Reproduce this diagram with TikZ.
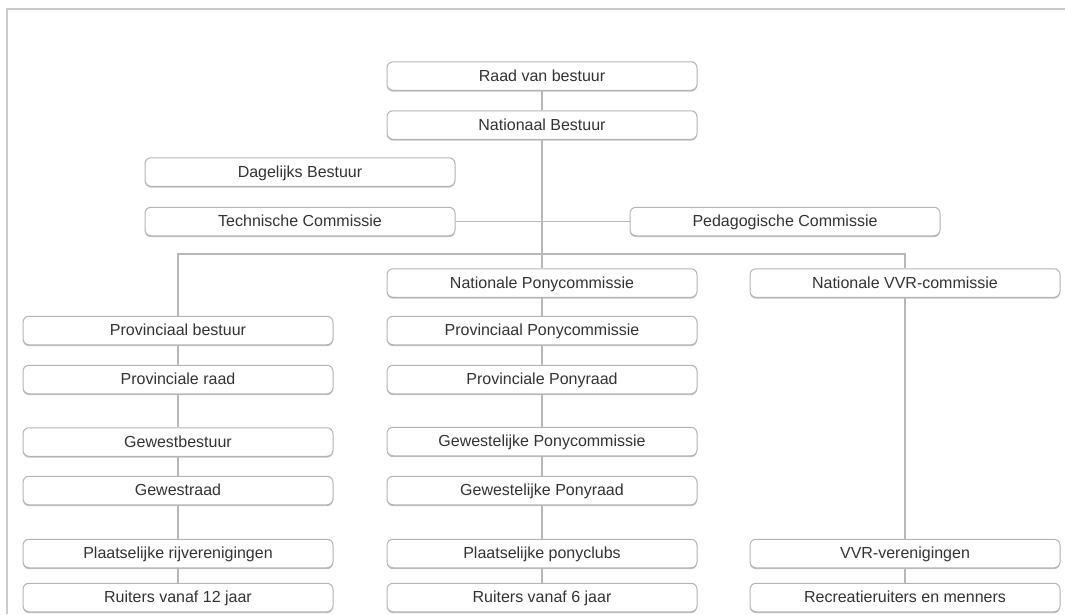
\documentclass[tikz,border=0pt]{standalone}
\usepackage{fontspec}
\setmainfont{Liberation Sans}
\usetikzlibrary{shadows}
\definecolor{boxline}{HTML}{B4B4B4}
\definecolor{wire}{HTML}{B8B8B8}
\definecolor{frameline}{HTML}{CACACA}
\definecolor{txt}{HTML}{333333}
\begin{document}
\begin{tikzpicture}[x=1pt,y=-1pt,
  orgbox/.style={draw=boxline, line width=1pt, fill=white, rounded corners=6pt,
    minimum width=310pt, minimum height=28.5pt, inner sep=0pt,
    text height=13pt, text depth=3pt,
    text=txt, font=\fontsize{16}{17}\selectfont,
    drop shadow={shadow xshift=0pt, shadow yshift=-1.4pt, fill=black!45, opacity=0.55}},
  wireline/.style={draw=wire, line width=1.6pt}]
\useasboundingbox (0,0) rectangle (1065,614);
% outer frame (top and left edges)
\draw[frameline, line width=2pt] (6.5,614) -- (6.5,8.5) -- (1065,8.5);

% national level
\node[orgbox] (rvb) at (542,76) {Raad van bestuur};
\node[orgbox] (nb)  at (542,125) {Nationaal Bestuur};
\node[orgbox] (db)  at (300,172) {Dagelijks Bestuur};
\node[orgbox] (tc)  at (300,221.5) {Technische Commissie};
\node[orgbox] (pc)  at (785,221.5) {Pedagogische Commissie};
\node[orgbox] (npc) at (542,283) {Nationale Ponycommissie};
\node[orgbox] (nvvr) at (905,283) {Nationale VVR-commissie};

% left column
\node[orgbox] (pb)  at (178,330.5) {Provinciaal bestuur};
\node[orgbox] (pr)  at (178,379.5) {Provinciale raad};
\node[orgbox] (gb)  at (178,442) {Gewestbestuur};
\node[orgbox] (gr)  at (178,490.5) {Gewestraad};
\node[orgbox] (plr) at (178,553.5) {Plaatselijke rijverenigingen};
\node[orgbox] (r12) at (178,597.5) {Ruiters vanaf 12 jaar};

% middle column
\node[orgbox] (ppc) at (542,330.5) {Provinciaal Ponycommissie};
\node[orgbox] (ppr) at (542,379.5) {Provinciale Ponyraad};
\node[orgbox] (gpc) at (542,441.5) {Gewestelijke Ponycommissie};
\node[orgbox] (gpr) at (542,490.5) {Gewestelijke Ponyraad};
\node[orgbox] (ppl) at (542,553.5) {Plaatselijke ponyclubs};
\node[orgbox] (r6)  at (542,597.5) {Ruiters vanaf 6 jaar};

% right column
\node[orgbox] (vvrv) at (905,553.5) {VVR-verenigingen};
\node[orgbox] (rec)  at (905,597.5) {Recreatieruiters en menners};

% junction where the branch line meets the main trunk
\coordinate (jn) at (542,254);

% connectors
\draw[wireline] (rvb) -- (nb);
\draw[wireline] (nb.south) -- (npc.north);
\draw[wireline] (tc.east) -- (pc.west);
\draw[wireline] (pb.north) |- (jn) -| (nvvr.north);
\draw[wireline] (pb) -- (pr) -- (gb) -- (gr) -- (plr) -- (r12);
\draw[wireline] (npc) -- (ppc) -- (ppr) -- (gpc) -- (gpr) -- (ppl) -- (r6);
\draw[wireline] (nvvr) -- (vvrv) -- (rec);
\end{tikzpicture}
\end{document}
